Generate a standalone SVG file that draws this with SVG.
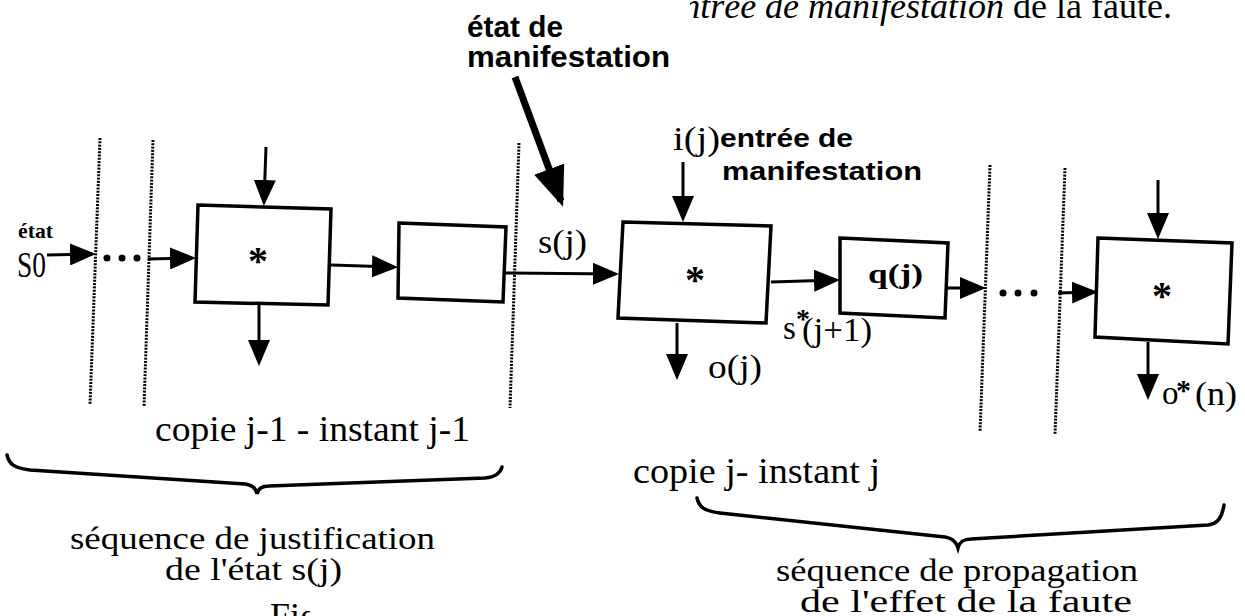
<svg xmlns="http://www.w3.org/2000/svg" width="1245" height="616" viewBox="0 0 1245 616">
<style>
.box{fill:#fff;stroke:#000;stroke-width:3.5;stroke-linejoin:miter}
.ln{stroke:#000;stroke-width:3;fill:none}
.big{stroke:#000;stroke-width:7;fill:none}
.dl{stroke:#000;stroke-width:3;stroke-dasharray:2 1.3;fill:none}
.br{stroke:#000;stroke-width:3.5;fill:none;stroke-linecap:round}
.serif{font-family:"Liberation Serif","Times New Roman",serif;fill:#000}
.sans{font-family:"Liberation Sans",Arial,sans-serif;font-weight:bold;fill:#000}
.star{font-family:"Liberation Serif","Times New Roman",serif;font-weight:bold;font-size:40px;text-anchor:middle;fill:#000}
</style>
<defs>
<marker id="ah" markerUnits="userSpaceOnUse" viewBox="0 0 26 22" refX="22" refY="11" markerWidth="26" markerHeight="22" orient="auto">
<path d="M0,0 L26,11 L0,22 Z" fill="#000"/>
</marker>
<marker id="ahb" markerUnits="userSpaceOnUse" viewBox="0 0 40 32" refX="34" refY="16" markerWidth="40" markerHeight="32" orient="auto">
<path d="M0,0 L40,16 L0,32 Z" fill="#000"/>
</marker>
<clipPath id="topclip"><rect x="690" y="0" width="555" height="40"/></clipPath>
<clipPath id="figclip"><rect x="262" y="590" width="48" height="26"/></clipPath>
</defs>

<g id="caption-top" clip-path="url(#topclip)">
<text class="serif" x="1172" y="18" font-size="36" text-anchor="end"><tspan font-style="italic">entrée de manifestation</tspan> de la faute.</text>
</g>

<g id="separators">
<line class="dl" x1="100" y1="138" x2="90" y2="405"/>
<line class="dl" x1="153" y1="140" x2="144" y2="407"/>
<line class="dl" x1="519" y1="143" x2="510" y2="408"/>
<line class="dl" x1="990" y1="165" x2="980" y2="432"/>
<line class="dl" x1="1065" y1="168" x2="1055" y2="434"/>
<circle cx="107" cy="258" r="3.5"/>
<circle cx="122" cy="258" r="3.5"/>
<circle cx="137" cy="258" r="3.5"/>
<circle cx="1003" cy="293" r="3.5"/>
<circle cx="1018" cy="293" r="3.5"/>
<circle cx="1034" cy="293" r="3.5"/>
</g>

<g id="input-s0">
<text class="serif" x="18" y="238" font-size="21" font-weight="bold" textLength="35" lengthAdjust="spacingAndGlyphs">état</text>
<text class="serif" x="17" y="277" font-size="36" textLength="29" lengthAdjust="spacingAndGlyphs">S0</text>
</g>

<g id="node-a">
<polygon class="box" points="198,205 331,209 328,305 195,302"/>
<text class="star" x="258" y="274">*</text>
</g>

<g id="node-b">
<polygon class="box" points="399,223 506,227 503,302 398,298"/>
</g>

<g id="node-c">
<polygon class="box" points="623,222 771,226 766,323 618,318"/>
<text class="star" x="695" y="293">*</text>
</g>

<g id="node-q">
<polygon class="box" points="840,238 948,243 945,318 840,313"/>
<text class="serif" x="868" y="283" font-size="27" font-weight="bold" textLength="55" lengthAdjust="spacingAndGlyphs">q(j)</text>
</g>

<g id="node-d">
<polygon class="box" points="1098,238 1232,243 1228,344 1095,337"/>
<text class="star" x="1162" y="309">*</text>
</g>

<g id="connectors">
<line class="ln" x1="47" y1="255" x2="92" y2="254" marker-end="url(#ah)"/>
<line class="ln" x1="148" y1="259" x2="192" y2="258" marker-end="url(#ah)"/>
<line class="ln" x1="266" y1="147" x2="264" y2="202" marker-end="url(#ah)"/>
<line class="ln" x1="259" y1="304" x2="259" y2="362" marker-end="url(#ah)"/>
<line class="ln" x1="331" y1="265" x2="394" y2="267" marker-end="url(#ah)"/>
<line class="ln" x1="506" y1="273" x2="615" y2="274" marker-end="url(#ah)"/>
<line class="big" x1="515" y1="77" x2="561" y2="201" marker-end="url(#ahb)"/>
<line class="ln" x1="683" y1="162" x2="683" y2="218" marker-end="url(#ah)"/>
<line class="ln" x1="677" y1="323" x2="677" y2="376" marker-end="url(#ah)"/>
<line class="ln" x1="771" y1="282" x2="836" y2="280" marker-end="url(#ah)"/>
<line class="ln" x1="947" y1="288" x2="982" y2="288" marker-end="url(#ah)"/>
<line class="ln" x1="1058" y1="293" x2="1094" y2="292" marker-end="url(#ah)"/>
<line class="ln" x1="1158" y1="180" x2="1158" y2="235" marker-end="url(#ah)"/>
<line class="ln" x1="1148" y1="342" x2="1148" y2="396" marker-end="url(#ah)"/>
</g>

<g id="labels">
<text class="sans" x="467" y="37" font-size="29" textLength="96" lengthAdjust="spacingAndGlyphs">état de</text>
<text class="sans" x="467" y="67" font-size="29" textLength="203" lengthAdjust="spacingAndGlyphs">manifestation</text>
<text class="serif" x="673" y="150" font-size="33" textLength="47" lengthAdjust="spacingAndGlyphs">i(j)</text>
<text class="sans" x="720" y="147" font-size="26" textLength="133" lengthAdjust="spacingAndGlyphs">entrée de</text>
<text class="sans" x="722" y="180" font-size="26" textLength="200" lengthAdjust="spacingAndGlyphs">manifestation</text>
<text class="serif" x="538" y="253" font-size="34" textLength="49" lengthAdjust="spacingAndGlyphs">s(j)</text>
<text class="serif" x="708" y="378" font-size="34" textLength="54" lengthAdjust="spacingAndGlyphs">o(j)</text>
<text class="serif" x="783" y="339" font-size="33">s</text>
<text class="serif" x="796" y="328" font-size="28" font-weight="bold">*</text>
<text class="serif" x="802" y="341" font-size="33" textLength="70" lengthAdjust="spacingAndGlyphs">(j+1)</text>
<text class="serif" x="1162" y="404" font-size="33">o</text>
<text class="serif" x="1176" y="400" font-size="30" font-weight="bold">*</text>
<text class="serif" x="1195" y="405" font-size="33" textLength="42" lengthAdjust="spacingAndGlyphs">(n)</text>
</g>

<g id="brace-left">
<path class="br" d="M7,455 C9,464 14,468 30,470 L245,484 C252,485 256,488 257,494 C258,488 262,486 269,486 L485,478 C495,477 500,474 502,467"/>
<text class="serif" x="155" y="441" font-size="35" textLength="315" lengthAdjust="spacingAndGlyphs">copie j-1 - instant j-1</text>
<text class="serif" x="70" y="549" font-size="32" textLength="365" lengthAdjust="spacingAndGlyphs">séquence de justification</text>
<text class="serif" x="165" y="580" font-size="32" textLength="177" lengthAdjust="spacingAndGlyphs">de l'état s(j)</text>
</g>

<g id="brace-right">
<path class="br" d="M697,498 C699,507 704,511 720,513 L945,537 C952,538 956,541 958,548 C960,541 964,539 971,539 L1208,525 C1218,524 1222,517 1224,505"/>
<text class="serif" x="633" y="483" font-size="35" textLength="247" lengthAdjust="spacingAndGlyphs">copie j- instant j</text>
<text class="serif" x="776" y="581" font-size="32" textLength="362" lengthAdjust="spacingAndGlyphs">séquence de propagation</text>
<text class="serif" x="800" y="612" font-size="32" textLength="332" lengthAdjust="spacingAndGlyphs">de l'effet de la faute</text>
</g>

<g id="caption-bottom" clip-path="url(#figclip)">
<text class="serif" x="270" y="628" font-size="36">Figure</text>
</g>
</svg>
